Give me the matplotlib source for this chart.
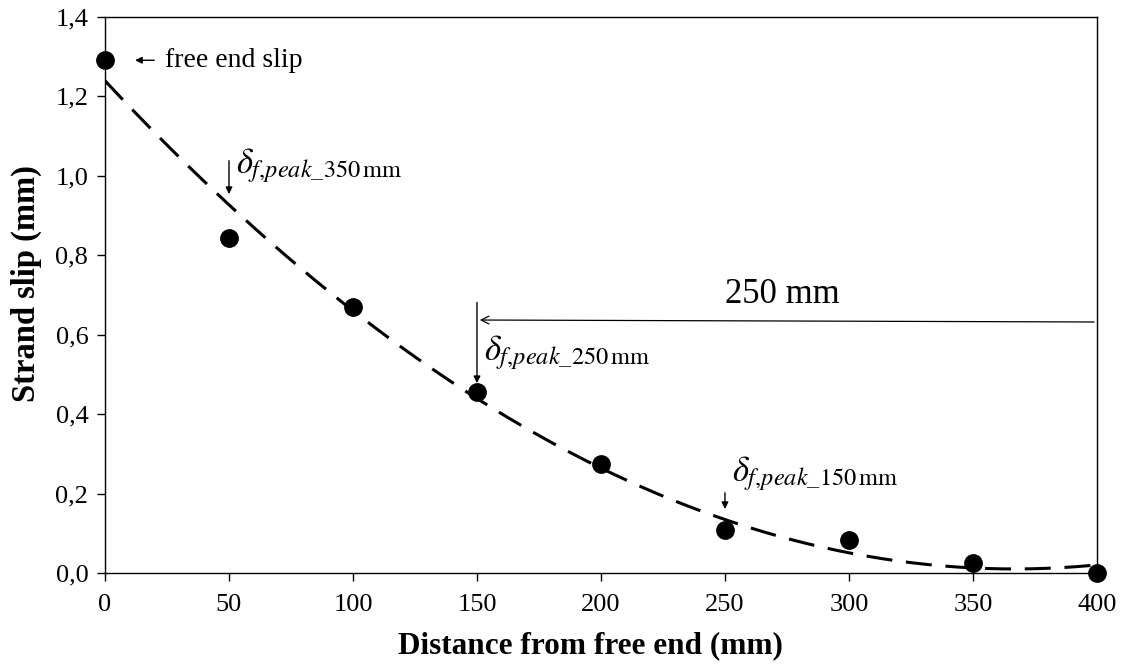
import matplotlib
matplotlib.use("Agg")
import matplotlib.pyplot as plt
from matplotlib.ticker import FuncFormatter, MultipleLocator
import numpy as np

plt.rcParams["font.family"] = ["Liberation Serif", "DejaVu Serif"]
plt.rcParams["mathtext.fontset"] = "stix"

# measured slip along the strand
distance = [0, 50, 100, 150, 200, 250, 300, 350, 400]
slip = [1.291, 0.843, 0.670, 0.456, 0.274, 0.108, 0.083, 0.024, 0.0]

# points marked as peak-slip locations for each embedment length
peak_x = [50, 150, 250]
peak_labels = ["350", "250", "150"]

fig = plt.figure(figsize=(11.23, 6.68), dpi=100)
ax = fig.add_axes([0.0935, 0.1422, 0.8833, 0.8324])

# second-order polynomial trend line through the measured points
coef = np.polyfit(distance, slip, 2)
xs = np.linspace(0, 400, 200)
ax.plot(xs, np.polyval(coef, xs), color="black", lw=2.2, ls=(0, (8.5, 4.5)), zorder=2)

ax.plot(distance, slip, "o", color="black", ms=12.5, zorder=3, clip_on=False)

ax.set_xlim(0, 400)
ax.set_ylim(0, 1.4)
ax.xaxis.set_major_locator(MultipleLocator(50))
ax.yaxis.set_major_locator(MultipleLocator(0.2))
ax.yaxis.set_major_formatter(FuncFormatter(lambda v, p: f"{v:.1f}".replace(".", ",")))
ax.tick_params(labelsize=19, length=6, width=1, direction="out")
ax.tick_params(axis="x", pad=9)
ax.tick_params(axis="y", pad=6)
for s in ax.spines.values():
    s.set_linewidth(1.0)

ax.set_xlabel("Distance from free end (mm)", fontsize=22.5, fontweight="bold")
ax.set_ylabel("Strand slip (mm)", fontsize=23.5, fontweight="bold")
ax.xaxis.set_label_coords(0.489, -0.104)
ax.yaxis.set_label_coords(-0.064, 0.52)

# free end label
ax.annotate("", xy=(11, slip[0]), xytext=(21, slip[0]),
            arrowprops=dict(arrowstyle="-|>", color="black", lw=1, mutation_scale=10))
ax.text(24, slip[0], "free end slip", fontsize=20, va="center", ha="left")

# peak slip markers
arrow_top = [1.045, 0.688, 0.209]
arrow_tip = [0.947, 0.471, 0.154]
text_y = [1.025, 0.555, 0.25]
for px, lbl, yt, yh, ty in zip(peak_x, peak_labels, arrow_top, arrow_tip, text_y):
    ax.annotate("", xy=(px, yh), xytext=(px, yt),
                arrowprops=dict(arrowstyle="-|>", color="black", lw=1, mutation_scale=10))
    ax.text(px + 3, ty, r"$\delta_{f{,}peak\_\mathrm{" + lbl + r"\,mm}}$",
            fontsize=25, va="center", ha="left")

# 250 mm dimension line from the loaded end
ax.annotate("", xy=(150, 0.637), xytext=(400, 0.632),
            arrowprops=dict(arrowstyle="->", color="black", lw=0.9, mutation_scale=14))
ax.text(273, 0.70, "250 mm", fontsize=25, ha="center", va="center")

fig.savefig("out.png", dpi=100)
